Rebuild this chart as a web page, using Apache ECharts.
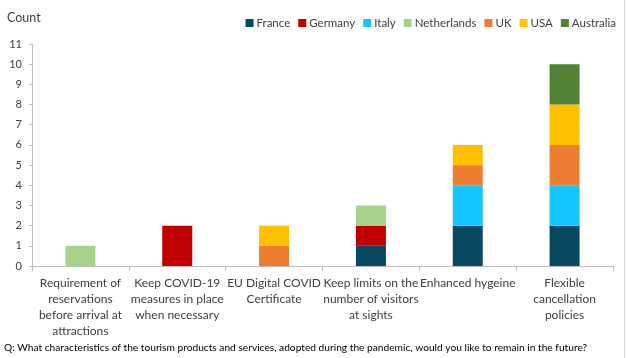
<!DOCTYPE html>
<html><head><meta charset="utf-8">
<script src="https://cdn.jsdelivr.net/npm/echarts@6/dist/echarts.min.js"></script>
<style>html,body{margin:0;padding:0;background:#fff}#c{width:627px;height:358px}</style>
</head><body><div id="c"></div>
<script>
const categories = [
  "Requirement of\nreservations\nbefore arrival at\nattractions",
  "Keep COVID-19\nmeasures in place\nwhen necessary",
  "EU Digital COVID\nCertificate",
  "Keep limits on the\nnumber of visitors\nat sights",
  "Enhanced hygeine",
  "Flexible\ncancellation\npolicies"
];
const seriesNames = ["France","Germany","Italy","Netherlands","UK","USA","Australia"];
const france      = [0,0,0,1,2,2];
const germany     = [0,2,0,1,0,0];
const italy       = [0,0,0,0,2,2];
const netherlands = [1,0,0,1,0,0];
const uk          = [0,0,1,0,1,2];
const usa         = [0,0,1,0,1,2];
const australia   = [0,0,0,0,0,2];
const yTicks = [0,1,2,3,4,5,6,7,8,9,10,11];
const colors = ["#084861","#C00000","#14C6FF","#A9D18E","#ED7D31","#FFC000","#548235"];
const values = [france,germany,italy,netherlands,uk,usa,australia];
const font = "Lato, 'Liberation Sans', sans-serif";
const chart = echarts.init(document.getElementById('c'), null, {renderer:'canvas'});
chart.setOption({
  animation:false,
  color: colors,
  textStyle:{fontFamily:font},
  legend:{
    right:6, top:12, itemWidth:8, itemHeight:8, itemGap:8, icon:'rect',
    textStyle:{fontFamily:font,fontSize:11.5,color:'#404040',padding:[0,0,0,-2]},
    data: seriesNames
  },
  grid:{left:32,right:14,top:44,bottom:92},
  xAxis:{
    type:'category', data:categories,
    axisLine:{lineStyle:{color:'#BFBFBF'}},
    axisTick:{show:true,length:5,lineStyle:{color:'#BFBFBF'}},
    axisLabel:{interval:0,fontFamily:font,fontSize:12,color:'#404040',lineHeight:16,margin:9}
  },
  yAxis:{
    type:'value', min:0, max:11, interval:1,
    axisLine:{show:true,lineStyle:{color:'#BFBFBF'}},
    axisTick:{show:true,length:3,lineStyle:{color:'#BFBFBF'}},
    splitLine:{show:false},
    axisLabel:{fontFamily:font,fontSize:11,color:'#404040',margin:10,
      formatter:v=>yTicks.includes(v)?String(v):''}
  },
  graphic:[
    {type:'text',left:7,top:11,style:{text:'Count',fontFamily:font,fontSize:12.5,fill:'#404040'}},
    {type:'text',left:4,top:343,style:{text:'Q: What characteristics of the tourism products and services, adopted during the pandemic, would you like to remain in the future?',fontFamily:font,fontSize:10.2,fill:'#000'}},
    {type:'line',shape:{x1:624.5,y1:0,x2:624.5,y2:358},style:{stroke:'#D9D9D9',lineWidth:1}}
  ],
  series: seriesNames.map((n,i)=>({
    name:n, type:'bar', stack:'total', barWidth:30,
    data: values[i].map(v=>v===0?null:v),
    itemStyle:{color:colors[i]}
  }))
});
</script></body></html>
